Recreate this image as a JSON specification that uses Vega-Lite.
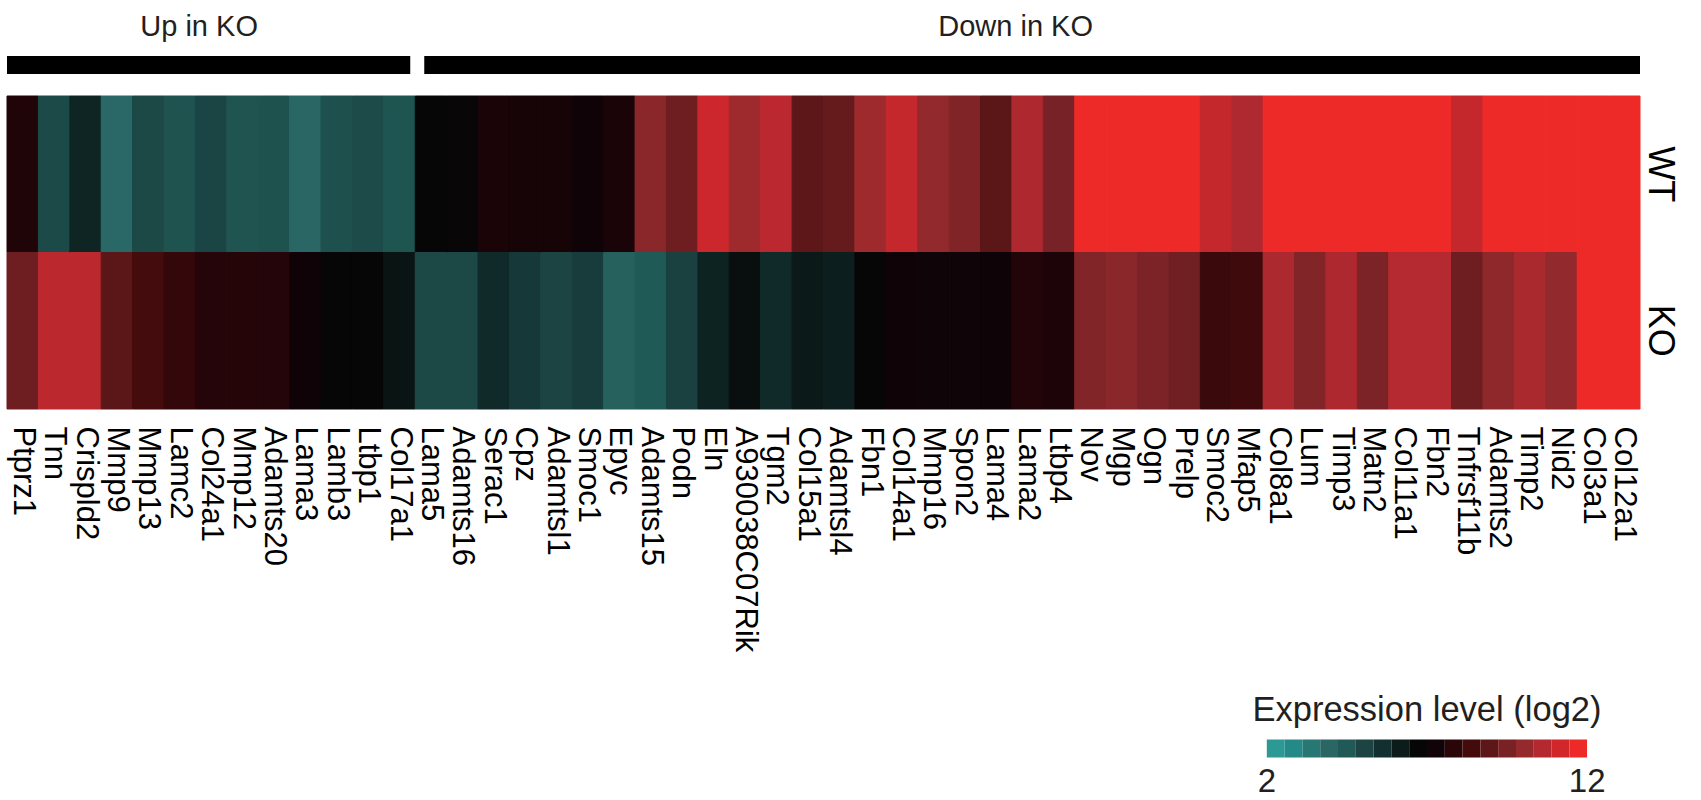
{
  "$schema": "https://vega.github.io/schema/vega-lite/v6.json",
  "background": "white",
  "padding": {"left": 6, "top": 13, "right": 20, "bottom": 0},
  "config": {
    "view": {"stroke": null},
    "font": "Liberation Sans",
    "concat": {"spacing": 21},
    "legend": {"gradientHorizontalMaxLength": 356, "gradientHorizontalMinLength": 356}
  },
  "datasets": {
    "groups": [
      {"group": "Up in KO", "first": 0, "last": 13},
      {"group": "Down in KO", "first": 13, "last": 52}
    ],
    "expr": [
      {"gene": "Ptprz1", "sample": "WT", "value": 7.61}, {"gene": "Ptprz1", "sample": "KO", "value": 9.29},
      {"gene": "Tnn", "sample": "WT", "value": 4.90}, {"gene": "Tnn", "sample": "KO", "value": 10.74},
      {"gene": "Crispld2", "sample": "WT", "value": 5.92}, {"gene": "Crispld2", "sample": "KO", "value": 10.74},
      {"gene": "Mmp9", "sample": "WT", "value": 3.88}, {"gene": "Mmp9", "sample": "KO", "value": 8.88},
      {"gene": "Mmp13", "sample": "WT", "value": 4.95}, {"gene": "Mmp13", "sample": "KO", "value": 8.43},
      {"gene": "Lamc2", "sample": "WT", "value": 4.66}, {"gene": "Lamc2", "sample": "KO", "value": 8.06},
      {"gene": "Col24a1", "sample": "WT", "value": 5.03}, {"gene": "Col24a1", "sample": "KO", "value": 7.72},
      {"gene": "Mmp12", "sample": "WT", "value": 4.63}, {"gene": "Mmp12", "sample": "KO", "value": 7.74},
      {"gene": "Adamts20", "sample": "WT", "value": 4.69}, {"gene": "Adamts20", "sample": "KO", "value": 7.70},
      {"gene": "Lama3", "sample": "WT", "value": 3.96}, {"gene": "Lama3", "sample": "KO", "value": 7.25},
      {"gene": "Lamb3", "sample": "WT", "value": 4.71}, {"gene": "Lamb3", "sample": "KO", "value": 6.72},
      {"gene": "Ltbp1", "sample": "WT", "value": 4.87}, {"gene": "Ltbp1", "sample": "KO", "value": 6.74},
      {"gene": "Col17a1", "sample": "WT", "value": 4.61}, {"gene": "Col17a1", "sample": "KO", "value": 6.37},
      {"gene": "Lama5", "sample": "WT", "value": 6.72}, {"gene": "Lama5", "sample": "KO", "value": 4.95},
      {"gene": "Adamts16", "sample": "WT", "value": 6.80}, {"gene": "Adamts16", "sample": "KO", "value": 4.95},
      {"gene": "Serac1", "sample": "WT", "value": 7.48}, {"gene": "Serac1", "sample": "KO", "value": 5.80},
      {"gene": "Cpz", "sample": "WT", "value": 7.39}, {"gene": "Cpz", "sample": "KO", "value": 5.39},
      {"gene": "Adamtsl1", "sample": "WT", "value": 7.41}, {"gene": "Adamtsl1", "sample": "KO", "value": 5.06},
      {"gene": "Smoc1", "sample": "WT", "value": 7.25}, {"gene": "Smoc1", "sample": "KO", "value": 5.28},
      {"gene": "Epyc", "sample": "WT", "value": 7.48}, {"gene": "Epyc", "sample": "KO", "value": 4.16},
      {"gene": "Adamts15", "sample": "WT", "value": 9.85}, {"gene": "Adamts15", "sample": "KO", "value": 4.47},
      {"gene": "Podn", "sample": "WT", "value": 9.29}, {"gene": "Podn", "sample": "KO", "value": 5.14},
      {"gene": "Eln", "sample": "WT", "value": 11.07}, {"gene": "Eln", "sample": "KO", "value": 5.97},
      {"gene": "A930038C07Rik", "sample": "WT", "value": 10.22}, {"gene": "A930038C07Rik", "sample": "KO", "value": 6.50},
      {"gene": "Tgm2", "sample": "WT", "value": 10.76}, {"gene": "Tgm2", "sample": "KO", "value": 5.78},
      {"gene": "Col15a1", "sample": "WT", "value": 8.94}, {"gene": "Col15a1", "sample": "KO", "value": 6.22},
      {"gene": "Adamtsl4", "sample": "WT", "value": 9.09}, {"gene": "Adamtsl4", "sample": "KO", "value": 6.09},
      {"gene": "Fbn1", "sample": "WT", "value": 10.22}, {"gene": "Fbn1", "sample": "KO", "value": 6.72},
      {"gene": "Col14a1", "sample": "WT", "value": 10.92}, {"gene": "Col14a1", "sample": "KO", "value": 7.25},
      {"gene": "Mmp16", "sample": "WT", "value": 10.00}, {"gene": "Mmp16", "sample": "KO", "value": 7.18},
      {"gene": "Spon2", "sample": "WT", "value": 9.65}, {"gene": "Spon2", "sample": "KO", "value": 7.18},
      {"gene": "Lama4", "sample": "WT", "value": 8.88}, {"gene": "Lama4", "sample": "KO", "value": 7.13},
      {"gene": "Lama2", "sample": "WT", "value": 10.50}, {"gene": "Lama2", "sample": "KO", "value": 7.66},
      {"gene": "Ltbp4", "sample": "WT", "value": 9.48}, {"gene": "Ltbp4", "sample": "KO", "value": 7.52},
      {"gene": "Nov", "sample": "WT", "value": 11.9}, {"gene": "Nov", "sample": "KO", "value": 9.69},
      {"gene": "Mgp", "sample": "WT", "value": 11.9}, {"gene": "Mgp", "sample": "KO", "value": 9.85},
      {"gene": "Ogn", "sample": "WT", "value": 11.9}, {"gene": "Ogn", "sample": "KO", "value": 9.58},
      {"gene": "Prelp", "sample": "WT", "value": 11.9}, {"gene": "Prelp", "sample": "KO", "value": 9.33},
      {"gene": "Smoc2", "sample": "WT", "value": 10.92}, {"gene": "Smoc2", "sample": "KO", "value": 8.19},
      {"gene": "Mfap5", "sample": "WT", "value": 10.52}, {"gene": "Mfap5", "sample": "KO", "value": 8.30},
      {"gene": "Col8a1", "sample": "WT", "value": 11.9}, {"gene": "Col8a1", "sample": "KO", "value": 10.47},
      {"gene": "Lum", "sample": "WT", "value": 11.9}, {"gene": "Lum", "sample": "KO", "value": 9.69},
      {"gene": "Timp3", "sample": "WT", "value": 11.9}, {"gene": "Timp3", "sample": "KO", "value": 10.48},
      {"gene": "Matn2", "sample": "WT", "value": 11.9}, {"gene": "Matn2", "sample": "KO", "value": 9.58},
      {"gene": "Col11a1", "sample": "WT", "value": 11.9}, {"gene": "Col11a1", "sample": "KO", "value": 10.63},
      {"gene": "Fbn2", "sample": "WT", "value": 11.9}, {"gene": "Fbn2", "sample": "KO", "value": 10.63},
      {"gene": "Tnfrsf11b", "sample": "WT", "value": 10.92}, {"gene": "Tnfrsf11b", "sample": "KO", "value": 9.29},
      {"gene": "Adamts2", "sample": "WT", "value": 11.9}, {"gene": "Adamts2", "sample": "KO", "value": 9.92},
      {"gene": "Timp2", "sample": "WT", "value": 11.9}, {"gene": "Timp2", "sample": "KO", "value": 10.41},
      {"gene": "Nid2", "sample": "WT", "value": 11.9}, {"gene": "Nid2", "sample": "KO", "value": 10.00},
      {"gene": "Col3a1", "sample": "WT", "value": 11.9}, {"gene": "Col3a1", "sample": "KO", "value": 11.9},
      {"gene": "Col12a1", "sample": "WT", "value": 11.9}, {"gene": "Col12a1", "sample": "KO", "value": 11.9}
    ]
  },
  "vconcat": [
    {
      "width": 1633,
      "height": 18,
      "data": {"name": "groups"},
      "transform": [{"calculate": "(datum.first + datum.last) / 2", "as": "mid"}],
      "encoding": {
        "x": {"field": "first", "type": "quantitative", "scale": {"domain": [0, 52], "nice": false, "zero": false}, "axis": null}
      },
      "layer": [
        {
          "transform": [{"filter": "datum.group === 'Up in KO'"}],
          "mark": {"type": "rect", "color": "#000000", "x2Offset": -5},
          "encoding": {"x2": {"field": "last"}}
        },
        {
          "transform": [{"filter": "datum.group === 'Down in KO'"}],
          "mark": {"type": "rect", "color": "#000000", "xOffset": 9},
          "encoding": {"x2": {"field": "last"}}
        },
        {
          "mark": {"type": "text", "fontSize": 29, "dy": -29, "dx": -12, "baseline": "alphabetic", "color": "#231f20", "font": "Liberation Sans"},
          "encoding": {
            "x": {"field": "mid", "type": "quantitative"},
            "text": {"field": "group"}
          }
        }
      ]
    },
    {
      "width": 1633,
      "height": 313,
      "data": {"name": "expr"},
      "encoding": {
        "x": {
          "field": "gene", "type": "nominal", "sort": null,
          "scale": {"paddingInner": 0, "paddingOuter": 0},
          "axis": {"title": null, "orient": "bottom", "labelAngle": 90, "labelFontSize": 31, "labelPadding": 17, "labelLimit": 0, "labelOverlap": false, "ticks": false, "domain": false, "labelColor": "#000000", "labelFont": "Liberation Sans"}
        },
        "y": {
          "field": "sample", "type": "nominal", "sort": ["WT", "KO"],
          "scale": {"paddingInner": 0, "paddingOuter": 0},
          "axis": {"title": null, "orient": "right", "labelAngle": 90, "labelFontSize": 36, "labelPadding": 0, "ticks": false, "domain": false, "labelColor": "#000000", "labelFont": "Liberation Sans"}
        }
      },
      "layer": [
        {
          "mark": {"type": "rect", "strokeWidth": 1},
          "encoding": {
            "fill": {
              "field": "value", "type": "quantitative",
              "scale": {
                "domain": [2.278, 2.833, 3.389, 3.944, 4.5, 5.056, 5.611, 6.167, 6.722, 7.278, 7.833, 8.389, 8.944, 9.5, 10.056, 10.611, 11.167, 11.722],
                "range": ["#2c9995", "#238a87", "#277775", "#296664", "#205955", "#1b4443", "#123030", "#0b1c1b", "#060606", "#110307", "#2a0609", "#430b0c", "#5e1719", "#782226", "#952a2d", "#b42930", "#d1272b", "#ee2a28"],
                "interpolate": "rgb",
                "clamp": true
              },
              "legend": null
            },
            "stroke": {
              "field": "value", "type": "quantitative",
              "scale": {
                "domain": [2.278, 2.833, 3.389, 3.944, 4.5, 5.056, 5.611, 6.167, 6.722, 7.278, 7.833, 8.389, 8.944, 9.5, 10.056, 10.611, 11.167, 11.722],
                "range": ["#2c9995", "#238a87", "#277775", "#296664", "#205955", "#1b4443", "#123030", "#0b1c1b", "#060606", "#110307", "#2a0609", "#430b0c", "#5e1719", "#782226", "#952a2d", "#b42930", "#d1272b", "#ee2a28"],
                "interpolate": "rgb",
                "clamp": true
              },
              "legend": null
            }
          }
        },
        {
          "transform": [{"filter": "false"}],
          "mark": {"type": "rect"},
          "encoding": {
            "color": {
              "field": "value", "type": "quantitative",
              "scale": {
                "type": "threshold",
                "domain": [2, 2.556, 3.111, 3.667, 4.222, 4.778, 5.333, 5.889, 6.444, 7, 7.556, 8.111, 8.667, 9.222, 9.778, 10.333, 10.889, 11.444, 12],
                "range": ["#ffffff", "#2c9995", "#238a87", "#277775", "#296664", "#205955", "#1b4443", "#123030", "#0b1c1b", "#060606", "#110307", "#2a0609", "#430b0c", "#5e1719", "#782226", "#952a2d", "#b42930", "#d1272b", "#ee2a28", "#ffffff"]
              },
              "legend": {
                "type": "gradient",
                "orient": "none",
                "legendX": 1242,
                "legendY": 638,
                "direction": "horizontal",
                "title": "Expression level (log2)",
                "titleFont": "Liberation Sans",
                "titleFontSize": 34.5,
                "titleFontWeight": "normal",
                "titleColor": "#231f20",
                "titleAnchor": "middle",
                "titleLimit": 0,
                "titlePadding": 11,
                "gradientLength": 356,
                "gradientThickness": 18,
                "gradientStrokeWidth": 0,
                "labelFont": "Liberation Sans",
                "labelFontSize": 33,
                "labelColor": "#231f20",
                "labelOffset": 8,
                "labelOverlap": false,
                "format": "d",
                "labelExpr": "datum.value == 2 || datum.value == 12 ? datum.label : ''"
              }
            }
          }
        }
      ]
    }
  ]
}
